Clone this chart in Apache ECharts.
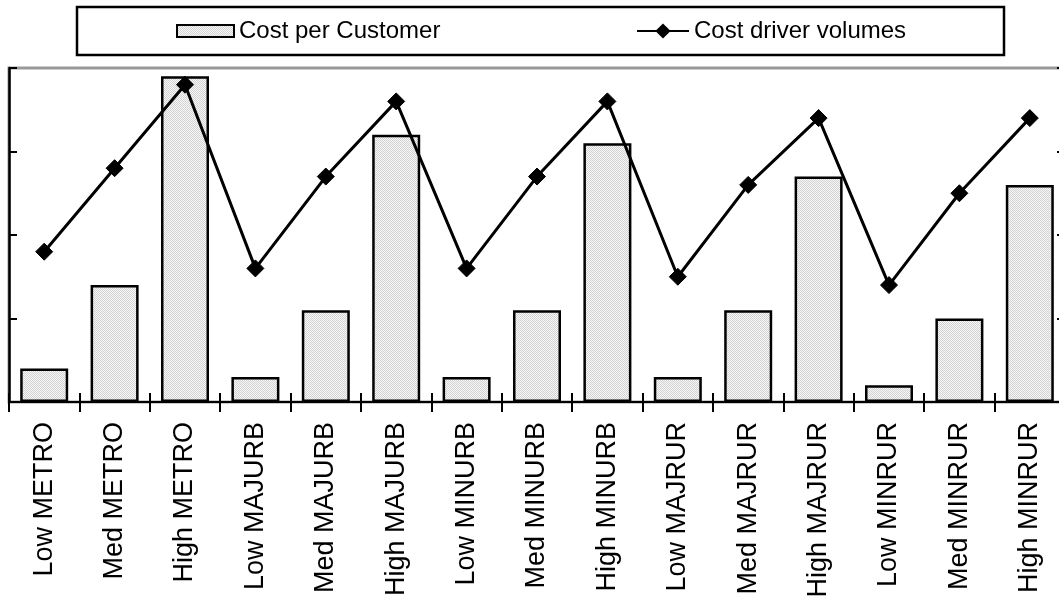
<!DOCTYPE html>
<html>
<head>
<meta charset="utf-8">
<script src="https://cdn.jsdelivr.net/npm/echarts/dist/echarts.min.js"></script>
<style>
  html, body { margin: 0; padding: 0; background: #fff; }
  #chart { width: 1059px; height: 597px; }
</style>
</head>
<body>
<div id="chart"></div>
<script>
// Customer segments along the category axis
const categories = [
  'Low METRO', 'Med METRO', 'High METRO',
  'Low MAJURB', 'Med MAJURB', 'High MAJURB',
  'Low MINURB', 'Med MINURB', 'High MINURB',
  'Low MAJRUR', 'Med MAJRUR', 'High MAJRUR',
  'Low MINRUR', 'Med MINRUR', 'High MINRUR'
];

// Cost per customer (bars, primary axis)
const costPerCustomer = [0.4, 1.4, 3.9, 0.3, 1.1, 3.2, 0.3, 1.1, 3.1, 0.3, 1.1, 2.7, 0.2, 1.0, 2.6];

// Cost driver volumes (line, secondary axis)
const driverVolumes = [1.8, 2.8, 3.8, 1.6, 2.7, 3.6, 1.6, 2.7, 3.6, 1.5, 2.6, 3.4, 1.4, 2.5, 3.4];

// Axis range shared by both value axes (unlabelled)
const axisMin = 0;
const axisMax = 4;
const axisStep = 1;

const FONT = '"Liberation Sans", Arial, Helvetica, sans-serif';

// Fine dotted fill used for the bars
function dotPattern() {
  const cv = document.createElement('canvas');
  cv.width = 2; cv.height = 2;
  const ctx = cv.getContext('2d');
  ctx.fillStyle = '#f7f7f7';
  ctx.fillRect(0, 0, 2, 2);
  ctx.fillStyle = '#d2d2d2';
  ctx.fillRect(0, 0, 1, 1);
  ctx.fillRect(1, 1, 1, 1);
  return cv;
}
const barFill = { image: dotPattern(), repeat: 'repeat' };

const chart = echarts.init(document.getElementById('chart'), null, { renderer: 'canvas' });

const valueAxis = (pos) => ({
  type: 'value',
  position: pos,
  min: axisMin,
  max: axisMax,
  interval: axisStep,
  axisLine: { show: true, lineStyle: { color: '#000', width: 2.5 } },
  axisTick: { show: true, inside: true, length: 8, lineStyle: { color: '#000', width: 2 } },
  axisLabel: { show: false },
  splitLine: { show: false }
});

chart.setOption({
  animation: false,
  backgroundColor: '#fff',
  graphic: [{
    type: 'rect',
    shape: { x: 77, y: 7, width: 927, height: 48 },
    style: { fill: 'none', stroke: '#000', lineWidth: 2.5 },
    silent: true
  }],
  legend: [
    {
      data: [{ name: 'Cost per Customer', icon: 'rect' }],
      left: 176, top: 19,
      padding: 0,
      itemWidth: 57, itemHeight: 12,
      textStyle: { fontSize: 24, color: '#000', fontFamily: FONT }
    },
    {
      data: ['Cost driver volumes'],
      left: 636, top: 19,
      padding: 0,
      itemWidth: 52, itemHeight: 19,
      textStyle: { fontSize: 24, color: '#000', fontFamily: FONT }
    }
  ],
  grid: {
    left: 9, width: 1056, top: 68, height: 334,
    outerBoundsMode: 'none',
    containLabel: false,
    show: true, borderColor: '#999', borderWidth: 3,
    backgroundColor: 'transparent'
  },
  xAxis: [
    {
      type: 'category',
      data: categories,
      position: 'bottom',
      boundaryGap: true,
      axisLine: { show: true, lineStyle: { color: '#000', width: 2 } },
      axisTick: { show: true, inside: false, length: 10, interval: 0, lineStyle: { color: '#000', width: 2 } },
      axisLabel: {
        interval: 0, rotate: 90, margin: 20,
        fontSize: 27, color: '#000', fontFamily: FONT
      },
      splitLine: { show: false }
    },
    {
      // inner half of the crossing category ticks
      type: 'category',
      data: categories,
      position: 'bottom',
      boundaryGap: true,
      axisLine: { show: false },
      axisTick: { show: true, inside: true, length: 9, interval: 0, lineStyle: { color: '#000', width: 2 } },
      axisLabel: { show: false },
      splitLine: { show: false }
    }
  ],
  yAxis: [valueAxis('left'), valueAxis('right')],
  series: [
    {
      name: 'Cost per Customer',
      type: 'bar',
      xAxisIndex: 0,
      yAxisIndex: 0,
      barWidth: 48,
      data: costPerCustomer,
      itemStyle: { color: barFill, borderColor: '#000', borderWidth: 2.5 }
    },
    {
      name: 'Cost driver volumes',
      type: 'line',
      xAxisIndex: 0,
      yAxisIndex: 1,
      data: driverVolumes,
      symbol: 'diamond',
      symbolSize: 17,
      lineStyle: { color: '#000', width: 3 },
      itemStyle: { color: '#000', borderColor: '#000' },
      z: 5
    }
  ]
});
</script>
</body>
</html>
